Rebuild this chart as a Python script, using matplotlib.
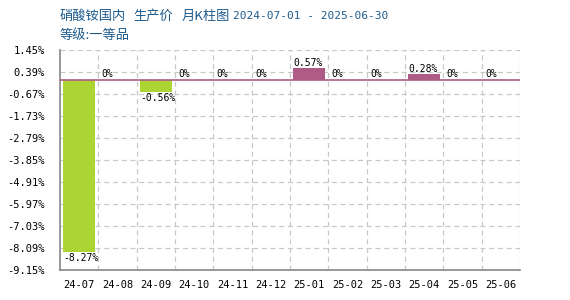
import matplotlib
matplotlib.use("Agg")
import matplotlib.pyplot as plt

categories = ["24-07", "24-08", "24-09", "24-10", "24-11", "24-12",
              "25-01", "25-02", "25-03", "25-04", "25-05", "25-06"]
values = [-8.27, 0, -0.56, 0, 0, 0, 0.57, 0, 0, 0.28, 0, 0]
yticks = [1.45, 0.39, -0.67, -1.73, -2.79, -3.85, -4.91, -5.97, -7.03, -8.09, -9.15]
title_parts = ["硝酸铵国内", "生产价", "月K柱图"]
title_date = "2024-07-01 - 2025-06-30"
title2 = "等级:一等品"

GREEN = "#acd533"
PURPLE = "#ae5b86"
TITLE_C = "#1e5b8c"
mono = ["DejaVu Sans Mono"]
cjk = ["Noto Sans CJK SC", "DejaVu Sans"]

fig = plt.figure(figsize=(5.7, 3.0), dpi=100)
ax = fig.add_axes([60/570, 30/300, 460/570, 220/300])

n = len(categories)
xs = list(range(n))
width = 0.83
colors = [GREEN if v < 0 else PURPLE for v in values]
ax.bar(xs, values, width=width, color=colors, zorder=3)
ax.axhline(0, color=PURPLE, lw=1.2, zorder=4)

ax.set_xlim(-0.5, n - 0.5)
ax.set_ylim(yticks[-1], yticks[0])
ax.set_yticks(yticks)
ax.set_yticklabels([f"{t:.2f}%" for t in yticks], family=mono, fontsize=7.5)
ax.set_xticks(xs)
ax.set_xticklabels(categories, family=mono, fontsize=7.5)
ax.set_xticks([x + 0.5 for x in xs], minor=True)
ax.tick_params(axis="both", which="both", length=0)
ax.tick_params(axis="y", pad=11)
ax.tick_params(axis="x", pad=7)

ax.grid(True, which="minor", axis="x", ls=(0, (4, 3)), color="#c8c8c8", lw=0.9)
ax.grid(True, which="major", axis="y", ls=(0, (4, 3)), color="#c8c8c8", lw=0.9)
ax.set_axisbelow(True)
for s in ["top", "right"]:
    ax.spines[s].set_visible(False)
for s in ["left", "bottom"]:
    ax.spines[s].set_color("#888888")
    ax.spines[s].set_linewidth(1.2)

for x, v in zip(xs, values):
    lx = x - width / 2
    label = "0%" if v == 0 else f"{v:.2f}%"
    if v >= 0:
        ax.annotate(label, (lx, v), xytext=(0, 0.5), textcoords="offset points",
                    ha="left", va="bottom", family=mono, fontsize=7, zorder=5)
    else:
        ax.annotate(label, (lx, v), xytext=(0, -1), textcoords="offset points",
                    ha="left", va="top", family=mono, fontsize=7, zorder=5)

for part, px in zip(title_parts, [60, 133, 182]):
    fig.text(px/570, 1 - 16/300, part, color=TITLE_C, fontsize=9.5,
             family=cjk, va="center", ha="left")
fig.text(233/570, 1 - 16/300, title_date, color=TITLE_C, fontsize=8,
         family=mono, va="center", ha="left")
fig.text(60/570, 1 - 35/300, title2, color=TITLE_C, fontsize=9.5,
         family=cjk, va="center", ha="left")

fig.savefig("out.png", dpi=100)
